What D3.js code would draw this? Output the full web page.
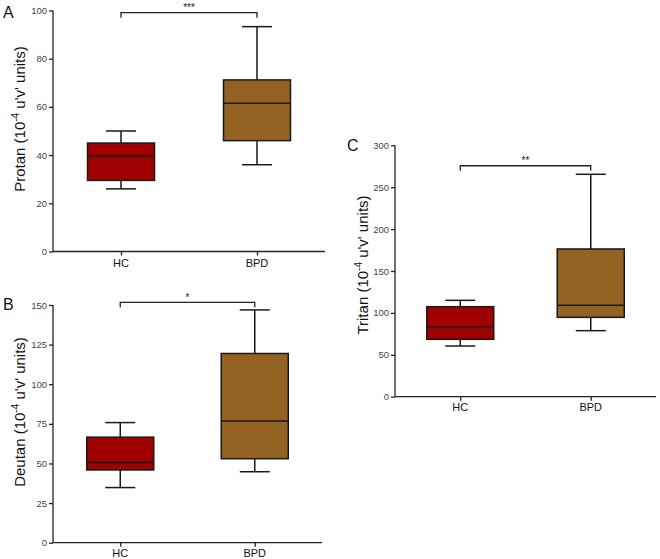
<!DOCTYPE html>
<html><head><meta charset="utf-8">
<script src="https://cdn.jsdelivr.net/npm/d3@7/dist/d3.min.js"></script>
<style>body{margin:0;background:#fff;}svg{display:block;font-family:"Liberation Sans",Arial,sans-serif;}</style>
</head><body>
<svg id="c" width="660" height="559"></svg>
<script>
const categories = ["HC", "BPD"];
const colors = ["#a00000", "#936122"];
// [low whisker, Q1, median, Q3, high whisker]
const protanHC = [26, 29.5, 39.5, 45, 50];
const protanBPD = [36, 46, 61.5, 71.2, 93.3];
const deutanHC = [34.8, 45.9, 50.6, 66.6, 75.8];
const deutanBPD = [44.8, 53, 76.8, 119.4, 146.9];
const tritanHC = [60.5, 68.5, 83.5, 107.4, 115];
const tritanBPD = [78.8, 94.7, 109, 176.3, 265.4];
const protanTicks = [0, 20, 40, 60, 80, 100];
const deutanTicks = [0, 25, 50, 75, 100, 125, 150];
const tritanTicks = [0, 50, 100, 150, 200, 250, 300];
const panelLetters = ["A", "B", "C"];
const axisNames = ["Protan", "Deutan", "Tritan"];
const significance = ["***", "*", "**"];
const bracketValues = [99.1, 151.7, 275.6];

const panels = [
  {letter: panelLetters[0], name: axisNames[0], data: [protanHC, protanBPD], ticks: protanTicks, sig: significance[0], bracket: bracketValues[0],
   x0: 53, x1: 325, yTop: 10.5, yBot: 251.5, max: 100, letterPos: [3, 18], labelPos: [25, 119], catY: 267},
  {letter: panelLetters[1], name: axisNames[1], data: [deutanHC, deutanBPD], ticks: deutanTicks, sig: significance[1], bracket: bracketValues[1],
   x0: 53, x1: 322, yTop: 305, yBot: 542.7, max: 150, letterPos: [3, 310], labelPos: [25, 412], catY: 557},
  {letter: panelLetters[2], name: axisNames[2], data: [tritanHC, tritanBPD], ticks: tritanTicks, sig: significance[2], bracket: bracketValues[2],
   x0: 395, x1: 656, yTop: 145.3, yBot: 396.7, max: 300, letterPos: [347, 151], labelPos: [368, 265], catY: 411}
];

const svg = d3.select("#c");
const boxW = 67, capW = 30;

panels.forEach(p => {
  const g = svg.append("g");
  const y = d3.scaleLinear().domain([0, p.max]).range([p.yBot, p.yTop]);
  const x = d3.scalePoint().domain(categories).range([p.x0, p.x1]).padding(0.5);

  // y axis
  const ya = g.append("g").attr("transform", `translate(${p.x0},0)`)
    .call(d3.axisLeft(y).tickValues(p.ticks).tickSize(4).tickPadding(2).tickFormat(d3.format("d")));
  ya.select(".domain").attr("stroke", "#222").attr("stroke-width", 1.3).attr("d", `M0,${p.yTop}V${p.yBot}`);
  ya.selectAll(".tick line").attr("stroke", "#222").attr("stroke-width", 1.3);
  ya.selectAll(".tick text").attr("font-size", 9.5).attr("fill", "#444").attr("font-family", "Liberation Sans, Arial, sans-serif");

  // x axis
  const xa = g.append("g").attr("transform", `translate(0,${p.yBot})`)
    .call(d3.axisBottom(x).tickSize(4).tickFormat(() => ""));
  xa.select(".domain").attr("stroke", "#222").attr("stroke-width", 1.3).attr("d", `M${p.x0},0H${p.x1}`);
  xa.selectAll(".tick line").attr("stroke", "#222").attr("stroke-width", 1.3);
  categories.forEach(c => {
    g.append("text").attr("x", x(c)).attr("y", p.catY).attr("text-anchor", "middle")
      .attr("font-size", 11).attr("fill", "#111").text(c);
  });

  // boxes
  categories.forEach((c, i) => {
    const d = p.data[i];
    const cx = x(c);
    const bg = g.append("g").attr("stroke", "#1a1a1a").attr("stroke-width", 1.5);
    bg.append("line").attr("x1", cx).attr("x2", cx).attr("y1", y(d[3])).attr("y2", y(d[4]));
    bg.append("line").attr("x1", cx).attr("x2", cx).attr("y1", y(d[1])).attr("y2", y(d[0]));
    bg.append("line").attr("x1", cx - capW / 2).attr("x2", cx + capW / 2).attr("y1", y(d[4])).attr("y2", y(d[4]));
    bg.append("line").attr("x1", cx - capW / 2).attr("x2", cx + capW / 2).attr("y1", y(d[0])).attr("y2", y(d[0]));
    bg.append("rect").attr("x", cx - boxW / 2).attr("width", boxW)
      .attr("y", y(d[3])).attr("height", y(d[1]) - y(d[3])).attr("fill", colors[i]);
    bg.append("line").attr("x1", cx - boxW / 2).attr("x2", cx + boxW / 2).attr("y1", y(d[2])).attr("y2", y(d[2]));
  });

  // significance bracket
  const by = y(p.bracket);
  const xa0 = x(categories[0]), xa1 = x(categories[1]);
  g.append("path").attr("d", `M${xa0},${by + 5}V${by}H${xa1}V${by + 5}`)
    .attr("fill", "none").attr("stroke", "#222").attr("stroke-width", 1.3);
  g.append("text").attr("x", (xa0 + xa1) / 2).attr("y", by - 1.5).attr("text-anchor", "middle")
    .attr("font-size", 10).attr("fill", "#222").text(p.sig);

  // panel letter
  g.append("text").attr("x", p.letterPos[0]).attr("y", p.letterPos[1]).attr("font-size", 16)
    .attr("fill", "#111").text(p.letter);

  // y label
  const t = g.append("text").attr("transform", `translate(${p.labelPos[0]},${p.labelPos[1]}) rotate(-90)`)
    .attr("text-anchor", "middle").attr("font-size", 15).attr("fill", "#111");
  t.append("tspan").text(p.name + " (10");
  t.append("tspan").attr("dy", -6).attr("font-size", 10).text("-4");
  t.append("tspan").attr("dy", 6).text(" u'v' units)");
});
</script>
</body></html>
